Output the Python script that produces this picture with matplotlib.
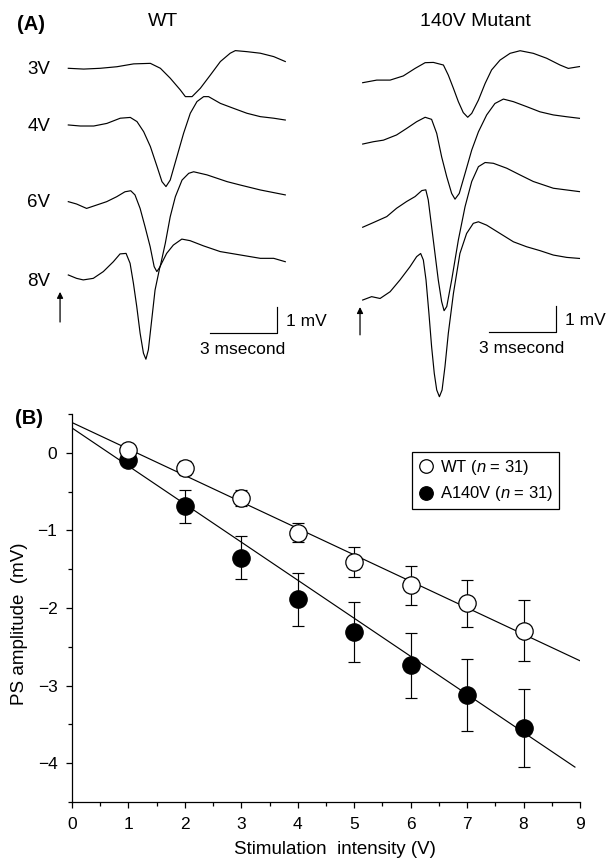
import matplotlib
matplotlib.use("Agg")
import matplotlib.pyplot as plt
from matplotlib.ticker import MultipleLocator

plt.rcParams['font.family'] = ['Liberation Sans', 'DejaVu Sans']
plt.rcParams['mathtext.fontset'] = 'custom'
plt.rcParams['mathtext.rm'] = 'Liberation Sans'
plt.rcParams['mathtext.it'] = 'Liberation Sans:italic'

# ---- panel A: field potential traces (time in ms, amplitude in mV) ----
trace_labels = ["3V", "4V", "6V", "8V"]

wt_t_3v = [0, 0.69, 1.43, 2.18, 2.93, 3.68, 4.13, 4.57, 5.02, 5.25, 5.55, 5.92,
           6.37, 6.82, 7.26, 7.49, 8.01, 8.61, 9.21, 9.73]
wt_v_3v = [0, -0.03, 0, 0.06, 0.17, 0.19, 0, -0.38, -0.83, -1.09, -1.09, -0.77,
           -0.26, 0.26, 0.58, 0.68, 0.64, 0.58, 0.45, 0.26]
wt_t_4v = [0, 0.54, 1.14, 1.73, 2.33, 2.78, 3.08, 3.38, 3.68, 3.98, 4.20, 4.38,
           4.57, 4.87, 5.17, 5.47, 5.77, 6.07, 6.29, 6.82, 7.41, 8.01, 8.61,
           9.21, 9.73]
wt_v_4v = [0, -0.04, -0.04, 0.06, 0.26, 0.29, 0.13, -0.26, -0.83, -1.60, -2.18,
           -2.37, -2.12, -1.22, -0.32, 0.45, 0.90, 1.09, 1.09, 0.83, 0.64, 0.45,
           0.32, 0.26, 0.19]
wt_t_6v = [0, 0.37, 0.82, 1.27, 1.72, 2.17, 2.54, 2.80, 2.99, 3.22, 3.44, 3.67,
           3.85, 3.97, 4.12, 4.35, 4.57, 4.80, 5.10, 5.40, 5.62, 6.22, 7.12,
           7.71, 8.61, 9.73]
wt_v_6v = [0, -0.09, -0.26, -0.13, 0, 0.19, 0.38, 0.42, 0.26, -0.26, -0.96,
           -1.73, -2.50, -2.69, -2.50, -1.60, -0.58, 0.19, 0.83, 1.09, 1.15,
           1.03, 0.77, 0.64, 0.45, 0.26]
wt_t_8v = [0, 0.37, 0.67, 1.12, 1.57, 2.02, 2.32, 2.59, 2.77, 2.92, 3.07, 3.22,
           3.37, 3.48, 3.59, 3.74, 3.89, 4.11, 4.41, 4.71, 5.09, 5.46, 6.06,
           6.81, 7.71, 8.61, 9.21, 9.73]
wt_v_8v = [0, -0.13, -0.19, -0.13, 0.13, 0.51, 0.81, 0.83, 0.45, -0.32, -1.22,
           -2.24, -3.01, -3.24, -2.88, -1.73, -0.58, 0.32, 0.83, 1.15, 1.38,
           1.32, 1.12, 0.90, 0.77, 0.64, 0.64, 0.51]

mut_t_3v = [0, 0.63, 1.23, 1.82, 2.35, 2.80, 3.17, 3.62, 3.84, 4.07, 4.29, 4.51,
            4.71, 4.89, 5.19, 5.49, 5.78, 6.16, 6.61, 7.06, 7.65, 8.25, 8.85,
            9.22, 9.72]
mut_v_3v = [0, 0.10, 0.10, 0.26, 0.55, 0.77, 0.78, 0.68, 0.29, -0.22, -0.73,
            -1.15, -1.33, -1.18, -0.67, -0.03, 0.49, 0.87, 1.13, 1.23, 1.13,
            0.94, 0.68, 0.55, 0.62]
mut_t_4v = [0, 0.48, 0.93, 1.52, 1.97, 2.42, 2.80, 3.09, 3.32, 3.54, 3.77, 3.99,
            4.14, 4.33, 4.59, 4.89, 5.19, 5.56, 5.93, 6.31, 6.76, 7.35, 7.95,
            8.55, 9.15, 9.72]
mut_v_4v = [0, 0.09, 0.15, 0.35, 0.60, 0.86, 1.03, 0.95, 0.41, -0.49, -1.26,
            -1.90, -2.12, -1.90, -1.13, -0.23, 0.47, 1.12, 1.56, 1.73, 1.63,
            1.44, 1.24, 1.12, 1.05, 0.99]
mut_t_6v = [0, 0.48, 1.08, 1.52, 1.97, 2.35, 2.65, 2.83, 2.94, 3.09, 3.24, 3.39,
            3.54, 3.65, 3.77, 3.99, 4.29, 4.59, 4.89, 5.19, 5.49, 5.86, 6.46,
            7.06, 7.65, 8.55, 9.72]
mut_v_6v = [0, 0.18, 0.41, 0.73, 0.99, 1.18, 1.41, 1.44, 1.05, 0.03, -1.00,
            -2.03, -2.86, -3.21, -3.05, -2.03, -0.49, 0.79, 1.76, 2.33, 2.49,
            2.46, 2.27, 2.01, 1.76, 1.50, 1.37]
mut_t_8v = [0, 0.40, 0.78, 1.23, 1.67, 2.12, 2.42, 2.60, 2.72, 2.84, 2.97, 3.09,
            3.21, 3.32, 3.44, 3.56, 3.69, 3.84, 4.07, 4.36, 4.66, 4.96, 5.19,
            5.56, 6.16, 6.76, 7.35, 7.95, 8.55, 9.15, 9.72]
mut_v_8v = [0, 0.13, 0.06, 0.32, 0.77, 1.28, 1.67, 1.79, 1.54, 0.77, -0.51,
            -1.79, -2.82, -3.46, -3.72, -3.46, -2.56, -1.28, 0.26, 1.79, 2.56,
            2.95, 3.01, 2.88, 2.56, 2.24, 2.05, 1.90, 1.73, 1.64, 1.60]

# ---- panel B: input/output curve ----
stim_v = [1, 2, 3, 4, 5, 6, 7, 8]
wt_amp = [0.04, -0.19, -0.58, -1.03, -1.41, -1.71, -1.94, -2.29]
wt_err = [0.05, 0.09, 0.10, 0.12, 0.19, 0.25, 0.30, 0.39]
mut_amp = [-0.09, -0.69, -1.35, -1.89, -2.31, -2.74, -3.12, -3.55]
mut_err = [0.05, 0.21, 0.28, 0.34, 0.39, 0.42, 0.46, 0.50]
wt_fit_x = [0, 9]
wt_fit_y = [0.39, -2.68]
mut_fit_x = [0, 8.91]
mut_fit_y = [0.32, -4.05]

fig = plt.figure(figsize=(6.14, 8.59), dpi=100)
W, H = 614.0, 859.0


def trace_panel(rect, xlim, ylim, traces, offsets, bar, arrow):
    ax = fig.add_axes(rect)
    ax.set_xlim(xlim)
    ax.set_ylim(ylim)
    ax.axis('off')
    for (t, v), off in zip(traces, offsets):
        ax.plot(t, [val + off for val in v], color='black', lw=0.85)
    # scale bar: corner at (bx, by), 3 ms and 1 mV
    bx, by = bar
    ax.plot([bx - 3, bx, bx], [by, by, by + 1], color='black', lw=0.85)
    ax.text(bx + 0.42, by + 0.45, "1 mV", fontsize=12.5, ha='left', va='center')
    ax.text(bx - 3.45, by - 0.65, "3 msecond", fontsize=12.5, ha='left',
            va='center')
    ax.annotate('', xy=(arrow[0], arrow[2]), xytext=(arrow[0], arrow[1]),
                arrowprops=dict(arrowstyle='-|>', color='black', lw=0.9,
                                mutation_scale=9, shrinkA=0, shrinkB=0))
    return ax


wt_offsets = [0, -2.18, -5.13, -7.95]
mut_offsets = [0, -2.36, -5.56, -8.36]

ax_wt = trace_panel([0, 1 - 380 / H, 300 / W, 380 / H], (-3.063, 10.39),
                    (-11.99, 2.627),
                    [(wt_t_3v, wt_v_3v), (wt_t_4v, wt_v_4v),
                     (wt_t_6v, wt_v_6v), (wt_t_8v, wt_v_8v)],
                    wt_offsets, (9.36, -10.18), (-0.37, -9.76, -8.6))
label_dy = [-0.05, -0.05, -0.05, -0.27]
for lab, off, dy in zip(trace_labels, wt_offsets, label_dy):
    ax_wt.text(-0.82, off + dy, lab, fontsize=13.5, ha='right', va='center')

ax_mut = trace_panel([330 / W, 1 - 410 / H, 284 / W, 410 / H], (-1.466, 11.27),
                     (-12.59, 3.181),
                     [(mut_t_3v, mut_v_3v), (mut_t_4v, mut_v_4v),
                      (mut_t_6v, mut_v_6v), (mut_t_8v, mut_v_8v)],
                     mut_offsets, (8.67, -9.59), (-0.12, -9.7, -8.63))

fig.text(17 / W, 1 - 25 / H, "(A)", fontsize=14.5, fontweight='bold',
         ha='left', va='center')
fig.text(163 / W, 1 - 22 / H, "WT", fontsize=14, ha='center', va='center')
fig.text(475 / W, 1 - 21 / H, "140V Mutant", fontsize=14, ha='center',
         va='center')
fig.text(15 / W, 1 - 418 / H, "(B)", fontsize=14.5, fontweight='bold',
         ha='left', va='center')

# ---- panel B axes ----
ax = fig.add_axes([72 / W, 57 / H, 508 / W, 388 / H])
ax.plot(wt_fit_x, wt_fit_y, color='black', lw=0.85, zorder=1)
ax.plot(mut_fit_x, mut_fit_y, color='black', lw=0.85, zorder=1)
ax.errorbar(stim_v, mut_amp, yerr=mut_err, fmt='none', ecolor='black',
            elinewidth=0.85, capsize=4.2, capthick=0.85, zorder=2)
ax.errorbar(stim_v, wt_amp, yerr=wt_err, fmt='none', ecolor='black',
            elinewidth=0.85, capsize=4.2, capthick=0.85, zorder=2)
ax.plot(stim_v, mut_amp, 'o', ms=12.5, mfc='black', mec='black', mew=0.9,
        zorder=3, label='A140V ($\\mathit{n}$ = 31)')
ax.plot(stim_v, wt_amp, 'o', ms=12.5, mfc='white', mec='black', mew=0.9,
        zorder=4, label='WT ($\\mathit{n}$ = 31)')

ax.set_xlim(0, 9)
ax.set_ylim(-4.5, 0.5)
ax.spines['top'].set_visible(False)
ax.spines['right'].set_visible(False)
ax.spines['left'].set_linewidth(0.9)
ax.spines['bottom'].set_linewidth(0.9)
ax.xaxis.set_major_locator(MultipleLocator(1))
ax.xaxis.set_minor_locator(MultipleLocator(0.5))
ax.set_yticks([0, -1, -2, -3, -4])
ax.yaxis.set_minor_locator(MultipleLocator(0.5))
ax.tick_params(which='major', length=4.5, width=0.9, labelsize=12.5, pad=6)
ax.tick_params(which='minor', length=2.8, width=0.9)
ax.set_xlabel("Stimulation  intensity (V)", fontsize=13.5)
ax.set_ylabel("PS amplitude  (mV)", fontsize=13.5)
ax.xaxis.set_label_coords(0.518, -0.1)
ax.yaxis.set_label_coords(-0.087, 0.46)

handles, labels = ax.get_legend_handles_labels()
leg = ax.legend(handles[::-1], labels[::-1], loc='upper left',
                bbox_to_anchor=(0.669, 0.902), borderaxespad=0, fontsize=12,
                markerscale=0.78, handlelength=1.0, handletextpad=0.35,
                labelspacing=0.45, borderpad=0.35, fancybox=False,
                framealpha=1)
leg.get_frame().set_edgecolor('black')
leg.get_frame().set_linewidth(0.9)

fig.savefig("out.png", dpi=100)
